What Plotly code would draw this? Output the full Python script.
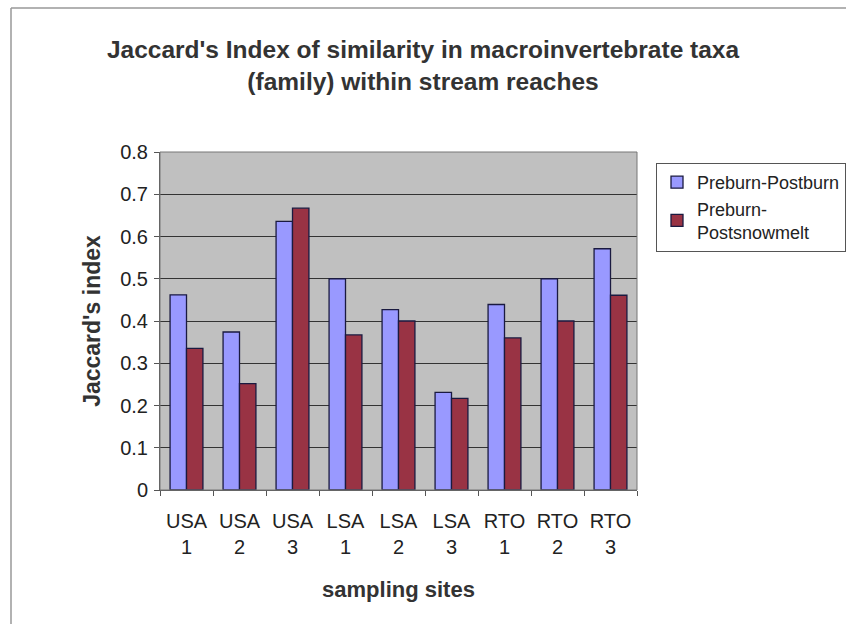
import plotly.graph_objects as go

categories = ["USA<br>1", "USA<br>2", "USA<br>3", "LSA<br>1", "LSA<br>2", "LSA<br>3",
              "RTO<br>1", "RTO<br>2", "RTO<br>3"]
preburn_postburn = [0.462, 0.374, 0.636, 0.500, 0.427, 0.231, 0.439, 0.500, 0.571]
preburn_postsnowmelt = [0.335, 0.252, 0.667, 0.367, 0.400, 0.217, 0.360, 0.400, 0.461]
series_names = ["Preburn-Postburn", "Preburn-<br>Postsnowmelt"]

W, H = 846, 624
L, R, T, B = 160, 209, 152, 134
pw, ph = W - L - R, H - T - B

def px_x(x):
    return (x - L) / pw

def px_y(y):
    return (H - B - y) / ph

font = "Liberation Sans, Arial, sans-serif"
txt = "#222222"

fig = go.Figure()
fig.add_trace(go.Bar(x=categories, y=preburn_postburn, name=series_names[0],
                     marker=dict(color="#9999FF", line=dict(color="#1a1a40", width=1.3))))
fig.add_trace(go.Bar(x=categories, y=preburn_postsnowmelt, name=series_names[1],
                     marker=dict(color="#993344", line=dict(color="#1a1a40", width=1.3))))

fig.update_layout(
    width=W, height=H,
    margin=dict(l=L, r=R, t=T, b=B, autoexpand=False),
    paper_bgcolor="white",
    plot_bgcolor="#C0C0C0",
    barmode="group",
    bargap=0.38,
    bargroupgap=0,
    font=dict(family=font, color=txt),
    title=dict(
        text="<b>Jaccard's Index of similarity in macroinvertebrate taxa<br>(family) within stream reaches</b>",
        x=0.5, xanchor="center", xref="container",
        y=1 - 58 / H, yanchor="middle", yref="container",
        font=dict(size=24.5, family=font, color="#333333"),
    ),
    showlegend=True,
    legend=dict(
        x=px_x(656), y=px_y(163), xanchor="left", yanchor="top",
        bgcolor="white", bordercolor="#555555", borderwidth=1,
        font=dict(size=18, family=font, color=txt),
        tracegroupgap=10, itemwidth=30,
    ),
    xaxis=dict(
        type="category",
        showgrid=False,
        showline=True, linecolor="#555555", linewidth=1,
        ticks="outside", ticklen=5, tickcolor="#555555", tickson="boundaries",
        ticklabelstandoff=13,
        tickfont=dict(size=20, family=font, color=txt),
        title=dict(text="<b>sampling sites</b>", font=dict(size=22, family=font, color="#333333"),
                   standoff=24),
    ),
    yaxis=dict(
        range=[0, 0.8], dtick=0.1, tickformat=".1~f",
        showgrid=True, gridcolor="#333333", gridwidth=1,
        showline=True, linecolor="#555555", linewidth=1,
        ticks="outside", ticklen=5, tickcolor="#555555",
        ticklabelstandoff=2,
        tickfont=dict(size=20, family=font, color=txt),
        title=dict(text="<b>Jaccard's index</b>", font=dict(size=23, family=font, color="#333333"),
                   standoff=13),
        zeroline=False,
    ),
)

# outer chart border (top and left visible)
fig.add_shape(type="line", xref="paper", yref="paper",
              x0=px_x(11), x1=px_x(850), y0=px_y(8), y1=px_y(8),
              line=dict(color="#999999", width=1.5))
fig.add_shape(type="line", xref="paper", yref="paper",
              x0=px_x(11), x1=px_x(11), y0=px_y(8), y1=px_y(630),
              line=dict(color="#999999", width=1.5))
# plot area border
fig.add_shape(type="rect", xref="paper", yref="paper", x0=0, x1=1, y0=0, y1=1,
              line=dict(color="#777777", width=1), layer="above")

fig.write_html("out.html")
